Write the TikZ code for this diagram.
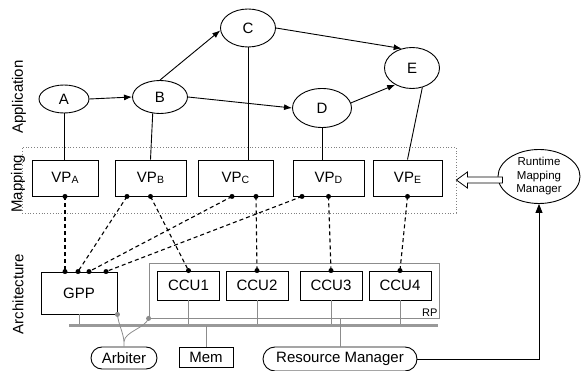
\documentclass[tikz,border=0pt]{standalone}
\usepackage{fontspec}
\setmainfont{Liberation Sans}
\usetikzlibrary{arrows.meta,calc,shapes.geometric}

\definecolor{rpgray}{gray}{0.55}
\definecolor{busgray}{gray}{0.6}

\newcommand{\vplabel}[1]{VP\raisebox{-1.5pt}{\fontsize{10.5}{10.5}\selectfont #1}}

\begin{document}
\begin{tikzpicture}[x=1pt,y=-1pt,
  font=\fontsize{15}{17}\selectfont,
  line width=0.9pt,
  task/.style={ellipse,draw,inner sep=0pt},
  vpbox/.style={draw,minimum width=#1,minimum height=36pt,inner sep=0pt},
  ccubox/.style={draw,minimum width=62pt,minimum height=29pt,inner sep=0pt},
  flow/.style={-{Latex[length=8pt,width=6pt]}},
  mapline/.style={dashed,dash pattern=on 4pt off 3pt,line width=1.1pt},
  pin/.style={fill=black},
  hw/.style={draw=rpgray,line width=0.8pt},
  stadium/.style={draw,rounded corners=#1,inner sep=0pt},
  sidelabel/.style={rotate=90}
]
\useasboundingbox (0,0) rectangle (581,371);

% side labels
\node[sidelabel] (lapp) at (19,97) {Application};
\node[sidelabel] (lmap) at (18,184) {Mapping};
\node[sidelabel] (larch) at (18,294) {Architecture};

% mapping layer frame
\node[draw=gray,dotted,line width=0.8pt,minimum width=434pt,minimum height=66pt,inner sep=0pt] (MapBox) at (239,180) {};

% application task graph
\node[task,minimum width=50pt,minimum height=28pt] (A) at (64,99) {A};
\node[task,minimum width=55pt,minimum height=33pt] (B) at (160,97) {B};
\node[task,minimum width=55pt,minimum height=38pt] (C) at (248,28) {C};
\node[task,minimum width=59pt,minimum height=39pt] (D) at (322,108) {D};
\node[task,minimum width=55pt,minimum height=41pt] (E) at (412,68) {E};

\draw[flow] (A.east) -- (B.west);
\draw[flow] (B.north) -- (C.185);
\draw[flow] (B.east) -- (D.west);
\draw[flow] (C.east) -- (E.118);
\draw[flow] (D.10) -- (E.225);

% virtual processors
\node[vpbox=66pt,fill=white] (VPA) at (65,178) {\vplabel{A}};
\node[vpbox=71pt,fill=white] (VPB) at (150.5,178) {\vplabel{B}};
\node[vpbox=75pt,fill=white] (VPC) at (235.5,178) {\vplabel{C}};
\node[vpbox=71pt,fill=white] (VPD) at (328.5,178) {\vplabel{D}};
\node[vpbox=69pt,fill=white] (VPE) at (407.5,178) {\vplabel{E}};

\draw (A.south) -- (A.south |- VPA.north);
\draw (B.246) -- (VPB.north);
\draw (C.south) -- (C.south |- VPC.north);
\draw (D.south) -- (D.south |- VPD.north);
\draw (E.298) -- (VPE.north);

% reconfigurable part and processors
\node[hw,minimum width=290pt,minimum height=55pt,inner sep=0pt] (RP) at (294,290.5) {};
\node[anchor=south east,inner sep=1.5pt,font=\fontsize{11}{12}\selectfont] (rplabel) at (RP.south east) {RP};

\node[draw,minimum width=76pt,minimum height=42pt,inner sep=0pt] (GPP) at (79,293) {GPP};
\node[ccubox,fill=white] (CCU1) at (188.5,285.5) {CCU1};
\node[ccubox,fill=white] (CCU2) at (257,285.5) {CCU2};
\node[ccubox,fill=white] (CCU3) at (331,285.5) {CCU3};
\node[ccubox,fill=white] (CCU4) at (400,285.5) {CCU4};

% system bus
\coordinate (busL) at (69,326);
\coordinate (busR) at (438,326);
\draw[hw] (GPP.south) -- (GPP.south |- busL);
\draw[hw] (CCU1.south) -- (CCU1.south |- busL);
\draw[hw] (CCU2.south) -- (CCU2.south |- busL);
\draw[hw] (CCU3.south) -- (CCU3.south |- busL);
\draw[hw] (CCU4.south) -- (CCU4.south |- busL);
\draw[busgray,line width=3pt] (busL) -- (busR);

% peripherals
\node[draw,minimum width=54pt,minimum height=20pt,inner sep=0pt] (Mem) at (206,357) {Mem};
\node[stadium=11pt,minimum width=66pt,minimum height=22pt] (Arb) at (124,358) {Arbiter};
\node[stadium=12pt,minimum width=154pt,minimum height=24pt] (RM) at (340,359) {Resource Manager};

\draw[hw] (Mem.north) -- (Mem.north |- busL);
\draw[hw] (RM.north) -- (RM.north |- RP.south);

% arbiter request lines
\coordinate (fork) at ([yshift=5pt]Arb.north);
\draw[hw] (Arb.north) -- (fork)
  .. controls +(-1,-10) and +(1,10) .. (GPP.south east);
\draw[hw] (fork)
  .. controls +(1,-10) and +(-4,10) .. (RP.south west);
\fill[rpgray] (GPP.south east) circle (2.5);
\fill[rpgray] (RP.south west) circle (2.5);

% mapping pins on the virtual processors
\coordinate (a1) at (VPA.south);
\coordinate (b1) at ([xshift=-23.5pt]VPB.south);
\coordinate (b2) at (VPB.south);
\coordinate (c1) at ([xshift=-3.5pt]VPC.south);
\coordinate (c2) at ([xshift=20.5pt]VPC.south);
\coordinate (d1) at ([xshift=-26.5pt]VPD.south);
\coordinate (d2) at (VPD.south);
\coordinate (e1) at (VPE.south);

% mapping pins on the GPP
\coordinate (g1) at ([xshift=-14pt]GPP.north);
\coordinate (g2) at ([xshift=-1pt]GPP.north);
\coordinate (g3) at ([xshift=10pt]GPP.north);
\coordinate (g4) at ([xshift=27pt]GPP.north);

\draw[mapline] (a1) -- (g1);
\draw[mapline] (b1) -- (g2);
\draw[mapline] (c1) -- (g3);
\draw[mapline] (d1) -- (g4);
\draw[mapline] (b2) -- (CCU1.north);
\draw[mapline] (c2) -- (CCU2.north);
\draw[mapline] (d2) -- (CCU3.north);
\draw[mapline] (e1) -- (CCU4.north);

\foreach \p in {a1,b1,b2,c1,c2,d1,d2,e1,g1,g2,g3,g4,CCU1.north,CCU2.north,CCU3.north,CCU4.north}
  \fill[pin] (\p) circle (2.5);

% runtime mapping manager
\node[task,minimum width=82pt,minimum height=54pt,align=center,
      font=\fontsize{11.5}{13.5}\selectfont] (RMM) at (539,176.5) {Runtime\\Mapping\\Manager};
\draw[-{Triangle[length=9pt,width=7pt]}] (RM.east) -- (RM.east -| RMM.south) -- (RMM.south);

% hollow arrow into the mapping layer
\draw[fill=white,line width=0.8pt] (MapBox.east) -- ++(11,-8) -- ++(0,5) -- ++(35,0)
  -- ++(0,6) -- ++(-35,0) -- ++(0,5) -- cycle;
\end{tikzpicture}
\end{document}
